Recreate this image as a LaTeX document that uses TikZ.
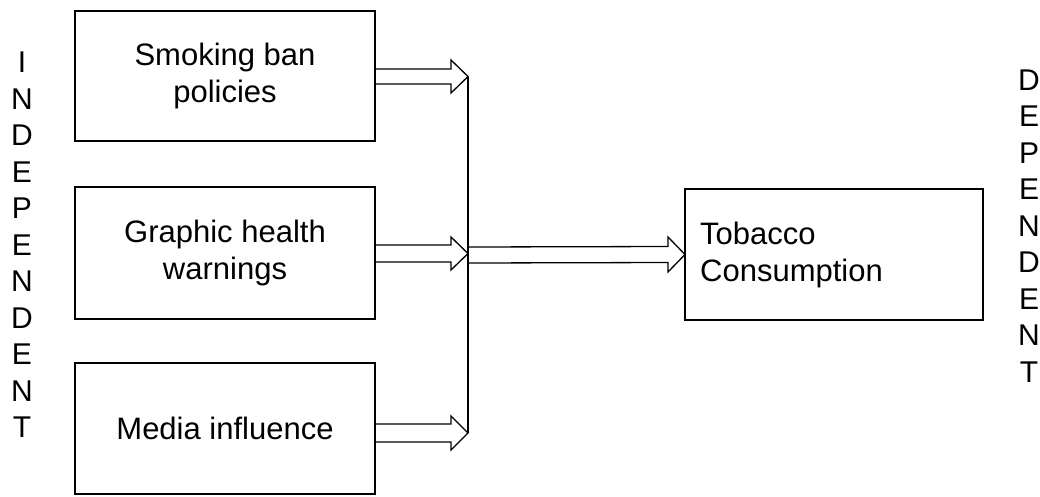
\documentclass[tikz,border=0pt]{standalone}
\usepackage{fontspec}
\setmainfont{Liberation Sans}
\usetikzlibrary{calc}
\tikzset{
  boxnode/.style={draw, line width=1.3pt, inner sep=0pt, font=\fontsize{31}{37}\selectfont},
  fatarrow/.style={draw, line width=1.3pt, line join=miter},
  stackletters/.style={inner sep=0pt, align=center, font=\fontsize{30}{36.5}\selectfont},
  vline/.style={draw, line width=1.3pt}
}
\newcommand\myfatarrow[5]{%
  \draw[fatarrow] ($(#1)+(0,#3)$) -- ($(#2)+(-#5,#3)$) -- ($(#2)+(-#5,#4)$) -- (#2)
     -- ($(#2)+(-#5,-#4)$) -- ($(#2)+(-#5,-#3)$) -- ($(#1)+(0,-#3)$);}
\begin{document}
\begin{tikzpicture}[x=1pt,y=-1pt]
\useasboundingbox (0,0) rectangle (1040,496);
% boxes
\node[boxnode, minimum width=300pt, minimum height=130pt, align=center] (b1) at (225,76) {Smoking ban\\policies};
\node[boxnode, minimum width=300pt, minimum height=132pt, align=center] (b2) at (225,253) {Graphic health\\warnings};
\node[boxnode, minimum width=300pt, minimum height=131pt, align=center] (b3) at (225,428.5) {Media influence};
\draw[line width=1.3pt] (685,189) rectangle (983,320);
\coordinate (b4w) at (685,254.5);
\node[inner sep=0pt, anchor=west, align=left, font=\fontsize{31}{37}\selectfont] (t4) at (700,254.5) {Tobacco\\Consumption};
% junction points
\coordinate (j1) at (468,76.5);
\coordinate (j2) at (468,253.5);
\coordinate (j3) at (468,433);
\coordinate (j4) at (468,255);
\coordinate (s1) at (b1.east |- j1);
\coordinate (s2) at (b2.east |- j2);
\coordinate (s3) at (b3.east |- j3);
% vertical collector
\draw[vline] (j1) -- (j3);
% arrows
\myfatarrow{s1}{j1}{7.5}{16.5}{17}
\myfatarrow{s2}{j2}{8.5}{16.5}{17}
\myfatarrow{s3}{j3}{9}{17}{17}
\myfatarrow{j4}{b4w}{8}{17.5}{17}
% side labels
\node[stackletters] (ind) at (22,245) {I\\N\\D\\E\\P\\E\\N\\D\\E\\N\\T};
\node[stackletters] (dep) at (1029,226) {D\\E\\P\\E\\N\\D\\E\\N\\T};
\end{tikzpicture}
\end{document}
